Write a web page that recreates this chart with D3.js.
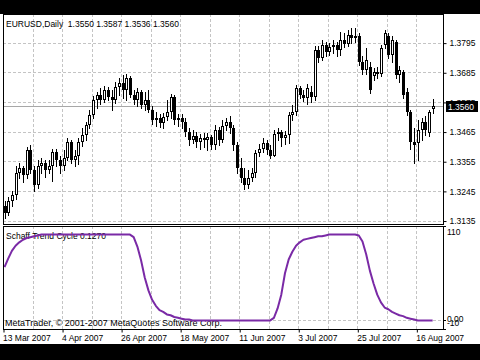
<!DOCTYPE html>
<html>
<head>
<meta charset="utf-8">
<script src="https://cdn.jsdelivr.net/npm/d3@7"></script>
<style>
  body { margin: 0; background: #fff; }
  svg { display: block; }
</style>
</head>
<body>
<svg width="480" height="360"></svg>
<script>
// EURUSD daily bars, 13 Mar 2007 .. 22 Aug 2007
const open = [1.3192,1.3166,1.3211,1.3230,1.3315,1.3330,1.3304,1.3397,1.3323,1.3267,
1.3341,1.3352,1.3323,1.3341,1.3390,1.3360,1.3341,1.3367,1.3427,1.3360,
1.3378,1.3427,1.3453,1.3490,1.3527,1.3583,1.3602,1.3583,1.3620,1.3594,
1.3583,1.3631,1.3646,1.3620,1.3665,1.3602,1.3583,1.3613,1.3564,1.3583,
1.3546,1.3509,1.3516,1.3497,1.3520,1.3538,1.3594,1.3509,1.3516,1.3501,
1.3464,1.3434,1.3449,1.3427,1.3442,1.3434,1.3445,1.3416,1.3471,1.3434,
1.3486,1.3501,1.3479,1.3416,1.3330,1.3293,1.3267,1.3293,1.3315,1.3386,
1.3404,1.3423,1.3397,1.3378,1.3457,1.3464,1.3442,1.3453,1.3527,1.3538,
1.3628,1.3602,1.3590,1.3613,1.3594,1.3769,1.3739,1.3788,1.3762,1.3780,
1.3788,1.3769,1.3806,1.3791,1.3825,1.3814,1.3821,1.3724,1.3695,1.3706,
1.3672,1.3687,1.3680,1.3788,1.3821,1.3750,1.3799,1.3676,1.3687,1.3613,
1.3538,1.3427,1.3423,1.3471,1.3501,1.3460,1.3550]
const high = [1.3211,1.3226,1.3248,1.3338,1.3352,1.3341,1.3408,1.3416,1.3341,1.3360,
1.3367,1.3360,1.3360,1.3404,1.3404,1.3375,1.3397,1.3442,1.3434,1.3397,
1.3442,1.3479,1.3501,1.3546,1.3598,1.3613,1.3628,1.3635,1.3631,1.3620,
1.3650,1.3665,1.3676,1.3680,1.3672,1.3620,1.3628,1.3620,1.3613,1.3620,
1.3561,1.3538,1.3531,1.3535,1.3583,1.3605,1.3602,1.3531,1.3531,1.3516,
1.3479,1.3471,1.3464,1.3457,1.3460,1.3460,1.3453,1.3490,1.3483,1.3509,
1.3516,1.3524,1.3490,1.3427,1.3367,1.3330,1.3323,1.3330,1.3397,1.3419,
1.3442,1.3434,1.3416,1.3471,1.3479,1.3471,1.3468,1.3538,1.3564,1.3639,
1.3635,1.3620,1.3643,1.3635,1.3784,1.3784,1.3806,1.3799,1.3795,1.3806,
1.3799,1.3836,1.3832,1.3843,1.3851,1.3851,1.3832,1.3747,1.3776,1.3724,
1.3702,1.3706,1.3788,1.3843,1.3832,1.3821,1.3806,1.3710,1.3695,1.3628,
1.3546,1.3479,1.3509,1.3516,1.3524,1.3546,1.3587]
const low = [1.3148,1.3159,1.3192,1.3218,1.3293,1.3278,1.3293,1.3315,1.3248,1.3256,
1.3315,1.3300,1.3315,1.3285,1.3338,1.3315,1.3323,1.3360,1.3352,1.3338,
1.3345,1.3412,1.3434,1.3479,1.3516,1.3553,1.3568,1.3576,1.3583,1.3546,
1.3572,1.3602,1.3590,1.3583,1.3594,1.3568,1.3561,1.3553,1.3546,1.3538,
1.3494,1.3486,1.3483,1.3479,1.3509,1.3516,1.3494,1.3486,1.3479,1.3449,
1.3416,1.3423,1.3408,1.3404,1.3408,1.3397,1.3404,1.3404,1.3416,1.3427,
1.3471,1.3460,1.3397,1.3315,1.3278,1.3252,1.3259,1.3285,1.3297,1.3375,
1.3390,1.3382,1.3367,1.3375,1.3434,1.3412,1.3419,1.3423,1.3509,1.3527,
1.3590,1.3579,1.3568,1.3576,1.3583,1.3724,1.3732,1.3747,1.3750,1.3758,
1.3747,1.3750,1.3780,1.3784,1.3795,1.3799,1.3713,1.3680,1.3680,1.3609,
1.3657,1.3665,1.3672,1.3776,1.3739,1.3724,1.3665,1.3650,1.3590,1.3527,
1.3404,1.3352,1.3360,1.3434,1.3453,1.3449,1.3536]
const close = [1.3166,1.3211,1.3230,1.3315,1.3330,1.3304,1.3397,1.3323,1.3267,1.3341,
1.3352,1.3323,1.3341,1.3390,1.3360,1.3341,1.3367,1.3427,1.3360,1.3378,
1.3427,1.3453,1.3490,1.3527,1.3583,1.3602,1.3583,1.3620,1.3594,1.3583,
1.3631,1.3646,1.3620,1.3665,1.3602,1.3583,1.3613,1.3564,1.3583,1.3546,
1.3509,1.3516,1.3497,1.3520,1.3538,1.3594,1.3509,1.3516,1.3501,1.3464,
1.3434,1.3449,1.3427,1.3442,1.3434,1.3445,1.3416,1.3471,1.3434,1.3486,
1.3501,1.3479,1.3416,1.3330,1.3293,1.3267,1.3293,1.3315,1.3386,1.3404,
1.3423,1.3397,1.3378,1.3457,1.3464,1.3442,1.3453,1.3527,1.3538,1.3628,
1.3602,1.3590,1.3628,1.3594,1.3769,1.3739,1.3788,1.3762,1.3780,1.3788,
1.3769,1.3806,1.3791,1.3825,1.3814,1.3821,1.3724,1.3695,1.3732,1.3620,
1.3687,1.3680,1.3776,1.3832,1.3750,1.3806,1.3676,1.3695,1.3602,1.3538,
1.3427,1.3416,1.3471,1.3501,1.3471,1.3538,1.3560]

// Schaff Trend Cycle, one value per bar
const stc = [62,72,81,87,91,94,96,97,98,99,
100,100,100,100,100,100,100,100,100,100,
100,100,100,100,100,100,100,100,100,100,
100,100,100,100,100,97,86,70,50,35,
24,17,12,10,7,6,4,3,2,1,
1,0,0,0,0,0,0,0,0,0,
0,0,0,0,0,0,0,0,0,0,
0,0,0,3,14,30,55,71,80,87,
91,94,95,96,97,98,98,99,100,100,
100,100,100,100,100,100,99,92,77,58,
43,30,21,15,13,10,8,6,5,3,
2,1,0,0,0,0,0]

const priceTicks = [1.3135, 1.3245, 1.3355, 1.3465, 1.3575, 1.3685, 1.3795]
const gridIdx = [8, 16, 24, 32, 40, 48, 56, 64, 72, 80, 88, 96, 104, 112]
const dateIdx = [0, 16, 32, 48, 64, 80, 96, 112]
const dateLabels = ["13 Mar 2007", "4 Apr 2007", "26 Apr 2007", "18 May 2007",
                    "11 Jun 2007", "3 Jul 2007", "25 Jul 2007", "16 Aug 2007"]
const bidPrice = 1.3560
const stcTitle = "Schaff Trend Cycle 0.1270"

const font = "'Liberation Sans', Arial, sans-serif"
const left = 3, right = 443
const mainTop = 14, mainBot = 224, indTop = 226, indBot = 329

const svg = d3.select("svg")

// background + black bars of the video frame
svg.append("rect").attr("width", 480).attr("height", 360).attr("fill", "#fff")
svg.append("rect").attr("width", 480).attr("height", 14).attr("fill", "#000")
svg.append("rect").attr("y", 344).attr("width", 480).attr("height", 16).attr("fill", "#000")

const x = d3.scaleLinear().domain([0, close.length - 1]).range([4.5, 432.6])
const y = d3.scaleLinear().domain([1.3124, 1.3903]).range([mainBot, mainTop])
const yi = d3.scaleLinear().domain([-10, 110]).range([indBot, indTop])

const px = v => Math.floor(v) + 0.5

// grid
const grid = svg.append("g")
    .attr("stroke", "#c4c4c4")
    .attr("stroke-dasharray", "3,2")

grid.selectAll("line.h")
    .data(priceTicks)
    .join("line")
    .attr("x1", left).attr("x2", right)
    .attr("y1", d => px(y(d))).attr("y2", d => px(y(d)))

grid.selectAll("line.v1")
    .data(gridIdx)
    .join("line")
    .attr("x1", d => px(x(d)) - 1).attr("x2", d => px(x(d)) - 1)
    .attr("y1", mainTop).attr("y2", mainBot)

grid.selectAll("line.v2")
    .data(gridIdx)
    .join("line")
    .attr("x1", d => px(x(d)) - 1).attr("x2", d => px(x(d)) - 1)
    .attr("y1", indTop).attr("y2", indBot)

grid.append("line")
    .attr("x1", left).attr("x2", right)
    .attr("y1", px(yi(0))).attr("y2", px(yi(0)))

// bid line
svg.append("line")
    .attr("x1", left).attr("x2", right)
    .attr("y1", px(y(bidPrice))).attr("y2", px(y(bidPrice)))
    .attr("stroke", "#a8a8a8")

// candles
const bars = close.map((c, i) => ({i: i, o: open[i], h: high[i], l: low[i], c: c}))
const cg = svg.append("g")

cg.selectAll("line")
    .data(bars)
    .join("line")
    .attr("x1", d => Math.round(x(d.i)) + 0.5)
    .attr("x2", d => Math.round(x(d.i)) + 0.5)
    .attr("y1", d => Math.round(y(d.h)))
    .attr("y2", d => Math.round(y(d.l)) + 1)
    .attr("stroke", "#000")

cg.selectAll("rect")
    .data(bars)
    .join("rect")
    .each(function(d) {
        const cx = Math.round(x(d.i))
        const top = Math.round(y(Math.max(d.o, d.c)))
        const bot = Math.round(y(Math.min(d.o, d.c)))
        const el = d3.select(this)
        if (d.c >= d.o) {
            el.attr("x", cx - 0.5).attr("width", 2)
              .attr("y", top + 0.5).attr("height", Math.max(0, bot - top - 1))
              .attr("fill", "#fff").attr("stroke", "#000")
        } else {
            el.attr("x", cx - 1).attr("width", 3)
              .attr("y", top).attr("height", Math.max(1, bot - top))
              .attr("fill", "#000")
        }
    })

// price axis on the right
const yAxis = d3.axisRight(y)
    .tickValues(priceTicks)
    .tickFormat(d3.format(".4f"))
    .tickSize(3)
    .tickPadding(3)

const ga = svg.append("g")
    .attr("transform", `translate(${right + 0.5},0)`)
    .call(yAxis)
ga.select(".domain").remove()
ga.attr("font-family", font).attr("font-size", "8.5px")
ga.selectAll("text").attr("fill", "#000")
ga.selectAll("line").attr("stroke", "#000")

// bid label box
svg.append("rect")
    .attr("x", 446).attr("y", Math.round(y(bidPrice)) - 5)
    .attr("width", 32).attr("height", 11)
    .attr("fill", "#000")
svg.append("text")
    .attr("x", 448).attr("y", Math.round(y(bidPrice)) + 3.5)
    .attr("font-family", font).attr("font-size", "8.5px")
    .attr("fill", "#fff")
    .text(d3.format(".4f")(bidPrice))

// indicator axis
const indTicks = [110, 0, -10]
const indLabels = ["110", "0.00", "-10"]
const indShift = [6.5, -1, -6]
svg.append("g")
    .selectAll("line")
    .data(indTicks)
    .join("line")
    .attr("x1", right).attr("x2", right + 3)
    .attr("y1", d => px(yi(d))).attr("y2", d => px(yi(d)))
    .attr("stroke", "#000")
svg.append("g")
    .selectAll("text")
    .data(indTicks)
    .join("text")
    .attr("x", right + 4)
    .attr("y", (d, i) => yi(d) + indShift[i])
    .attr("dy", "0.32em")
    .attr("font-family", font).attr("font-size", "8.5px")
    .text((d, i) => indLabels[i])

// date axis
const xAxis = d3.axisBottom(x)
    .tickValues(dateIdx)
    .tickFormat((d, i) => dateLabels[i])
    .tickSize(3)
    .tickPadding(2)

const gx = svg.append("g")
    .attr("transform", `translate(-1,${indBot + 0.5})`)
    .call(xAxis)
gx.select(".domain").remove()
gx.attr("font-family", font).attr("font-size", "8.5px")
gx.selectAll("text").attr("fill", "#000").attr("text-anchor", "start").attr("dx", "-1")
gx.selectAll("line").attr("stroke", "#000")

// titles
svg.append("text")
    .attr("x", 6).attr("y", 27)
    .attr("font-family", font).attr("font-size", "8.5px")
    .attr("xml:space", "preserve")
    .text("EURUSD,Daily  " + [open, high, low, close].map(a => d3.format(".4f")(a[a.length - 1])).join(" "))

svg.append("text")
    .attr("x", 6).attr("y", 239)
    .attr("font-family", font).attr("font-size", "8.5px")
    .text(stcTitle)

svg.append("text")
    .attr("x", 5).attr("y", 326)
    .attr("font-family", font).attr("font-size", "9px")
    .text("MetaTrader, \u00a9 2001-2007 MetaQuotes Software Corp.")

// STC line
svg.append("path")
    .datum(stc)
    .attr("d", d3.line().x((d, i) => x(i)).y(d => yi(d)))
    .attr("fill", "none")
    .attr("stroke", "#7a2aa6")
    .attr("stroke-width", 2)
    .attr("stroke-linejoin", "round")

// panel frames
svg.append("rect")
    .attr("x", left + 0.5).attr("y", mainTop + 0.5)
    .attr("width", right - left).attr("height", mainBot - mainTop)
    .attr("fill", "none").attr("stroke", "#000")
svg.append("rect")
    .attr("x", left + 0.5).attr("y", indTop + 0.5)
    .attr("width", right - left).attr("height", indBot - indTop)
    .attr("fill", "none").attr("stroke", "#000")
</script>
</body>
</html>
